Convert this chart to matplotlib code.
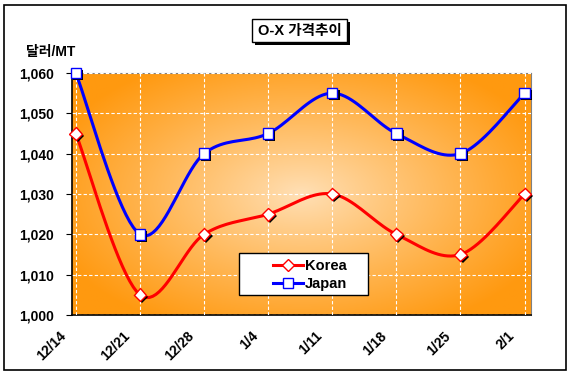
import numpy as np
import matplotlib
matplotlib.use("Agg")
import matplotlib.pyplot as plt
import matplotlib.patheffects as pe
import matplotlib.transforms as mtransforms
from matplotlib.patches import Rectangle

plt.rcParams['font.family'] = ['Liberation Sans', 'Noto Sans CJK KR', 'DejaVu Sans']

dates = ["12/14", "12/21", "12/28", "1/4", "1/11", "1/18", "1/25", "2/1"]
korea = [1045, 1005, 1020, 1025, 1030, 1020, 1015, 1030]
japan = [1060, 1020, 1040, 1045, 1055, 1045, 1040, 1055]


def smooth(y, n=20):
    # Catmull-Rom style smoothing like Excel's "smoothed line"
    y = np.asarray(y, float)
    x = np.arange(len(y), dtype=float)
    px = np.concatenate([[x[0]], x, [x[-1]]])
    py = np.concatenate([[y[0]], y, [y[-1]]])
    xs, ys = [], []
    t = np.linspace(0, 1, n, endpoint=False)
    cr = lambda a0, a1, a2, a3: 0.5 * ((2 * a1) + (-a0 + a2) * t
                                        + (2 * a0 - 5 * a1 + 4 * a2 - a3) * t ** 2
                                        + (-a0 + 3 * a1 - 3 * a2 + a3) * t ** 3)
    for i in range(1, len(px) - 2):
        xs.append(cr(*px[i - 1:i + 3]))
        ys.append(cr(*py[i - 1:i + 3]))
    xs.append([x[-1]])
    ys.append([y[-1]])
    return np.concatenate(xs), np.concatenate(ys)


W, H = 573, 378
fig = plt.figure(figsize=(W / 100, H / 100), dpi=100)


def frect(x0, y0, x1, y1, **kw):
    # rectangle in pixel coords measured from the top-left corner
    return Rectangle((x0 / W, 1 - y1 / H), (x1 - x0) / W, (y1 - y0) / H,
                     transform=fig.transFigure, **kw)


fig.patches.append(frect(4, 5, 566, 370, fill=False, edgecolor="black", linewidth=1.2))

ax = fig.add_axes([72 / W, 1 - 315 / H, (531 - 72) / W, (315 - 73) / H])

# radial gradient background
gx, gy = np.meshgrid(np.linspace(0, 1, 300), np.linspace(0, 1, 200))
r = np.sqrt(((gx - 0.5) / 0.58) ** 2 + ((gy - 0.5) / 0.62) ** 2)
r = np.clip(r, 0, 1) ** 0.9
c0 = np.array([1.0, 0.88, 0.72])
c1 = np.array([1.0, 0.60, 0.06])
img = c0[None, None, :] * (1 - r[..., None]) + c1[None, None, :] * r[..., None]
ax.imshow(img, extent=[0, 1, 0, 1], transform=ax.transAxes, aspect="auto", zorder=0)

x = np.arange(len(dates))
ax.set_xlim(-0.06, 7.1)
ax.set_ylim(1000, 1060)
ax.set_yticks(range(1000, 1061, 10))
ax.set_yticklabels([f"{v:,}" for v in range(1000, 1061, 10)], fontsize=10, fontweight="bold")
ax.set_xticks(x)
ax.set_xticklabels(dates, fontsize=10, fontweight="bold", rotation=45, ha="right",
                   rotation_mode="anchor")
ax.tick_params(axis="x", length=0, pad=10)
ax.tick_params(axis="y", length=4, direction="out", pad=9)
shift = mtransforms.ScaledTranslation(-17 / 100, 0, fig.dpi_scale_trans)
for lbl in ax.get_xticklabels():
    lbl.set_transform(lbl.get_transform() + shift)
ax.grid(True, color="white", linestyle=(0, (3, 2)), linewidth=0.8)
ax.set_axisbelow(False)
for s in ["top", "right"]:
    ax.spines[s].set_color("#808080")
for s in ["left", "bottom"]:
    ax.spines[s].set_color("black")
    ax.spines[s].set_linewidth(1.2)

shadow = [pe.SimplePatchShadow(offset=(1.5, -1.5), shadow_rgbFace="black", alpha=1), pe.Normal()]

sx, sy = smooth(korea)
ax.plot(sx, sy, color="#ff0000", linewidth=2.2, zorder=3)
ax.plot(x, korea, linestyle="none", marker="D", markersize=6.5, markerfacecolor="white",
        markeredgecolor="#ff0000", markeredgewidth=1, zorder=4, clip_on=False,
        path_effects=shadow)
sx, sy = smooth(japan)
ax.plot(sx, sy, color="#0000ff", linewidth=2.2, zorder=3)
ax.plot(x, japan, linestyle="none", marker="s", markersize=7.5, markerfacecolor="white",
        markeredgecolor="#0000ff", markeredgewidth=1, zorder=4, clip_on=False,
        path_effects=shadow)

# legend: white framed box with centred entries
fig.patches.append(frect(239, 253, 368, 295, facecolor="white", edgecolor="black",
                         linewidth=1, zorder=5))
h1, = ax.plot([], [], color="#ff0000", linewidth=2.2, marker="D", markersize=6,
              markerfacecolor="white", markeredgecolor="#ff0000")
h2, = ax.plot([], [], color="#0000ff", linewidth=2.2, marker="s", markersize=7,
              markerfacecolor="white", markeredgecolor="#0000ff")
leg = fig.legend([h1, h2], ["Korea", "Japan"], loc="center",
                 bbox_to_anchor=(310 / W, 1 - 275 / H), frameon=False,
                 prop={"weight": "bold", "size": 10.5}, handlelength=2.1,
                 labelspacing=0.3, handletextpad=0.1, borderpad=0)
leg.set_zorder(6)

# title box with drop shadow
fig.patches.append(frect(255, 22, 350, 45, facecolor="black", edgecolor="none"))
fig.patches.append(frect(252, 19, 347, 42, facecolor="white", edgecolor="black", linewidth=1))
fig.text(299.5 / W, 1 - 31 / H, "O-X 가격추이", ha="center", va="center", fontsize=10.5,
         fontweight="bold")
fig.text(26 / W, 1 - 52 / H, "달러/MT", ha="left", va="center", fontsize=10, fontweight="bold")

fig.savefig("out.png", dpi=100)
